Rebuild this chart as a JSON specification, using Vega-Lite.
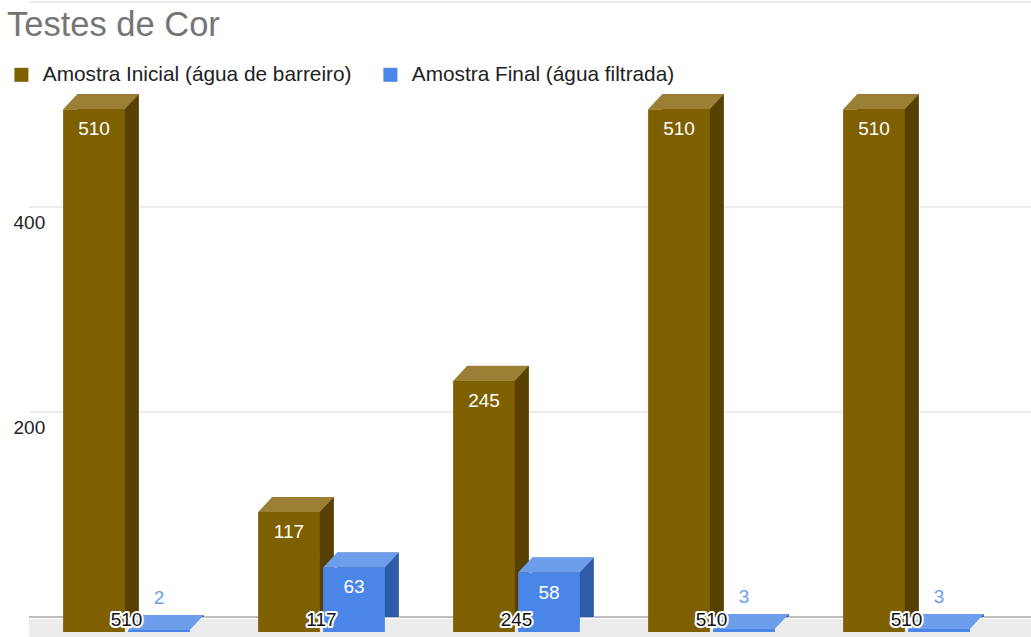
{
  "$schema": "https://vega.github.io/schema/vega-lite/v6.json",
  "autosize": "none",
  "width": 1002,
  "height": 615,
  "padding": {"left": 29, "top": 17, "right": 0, "bottom": 5},
  "background": "white",
  "config": {"view": {"stroke": null}, "font": "Liberation Sans"},
  "title": {
    "text": "Testes de Cor",
    "anchor": "start",
    "frame": "group",
    "fontSize": 34.5,
    "fontWeight": "normal",
    "font": "Liberation Sans",
    "color": "#757575",
    "baseline": "alphabetic",
    "dx": -22,
    "dy": 73
  },
  "datasets": {
    "barras": [
      {"chave": "1i", "rotulo": "510", "tipo": "i", "serie": "Amostra Inicial (água de barreiro)", "valor": 510},
      {"chave": "1f", "rotulo": "510", "tipo": "f", "serie": "Amostra Final (água filtrada)", "valor": 2},
      {"chave": "2i", "rotulo": "117", "tipo": "i", "serie": "Amostra Inicial (água de barreiro)", "valor": 117},
      {"chave": "2f", "rotulo": "117", "tipo": "f", "serie": "Amostra Final (água filtrada)", "valor": 63},
      {"chave": "3i", "rotulo": "245", "tipo": "i", "serie": "Amostra Inicial (água de barreiro)", "valor": 245},
      {"chave": "3f", "rotulo": "245", "tipo": "f", "serie": "Amostra Final (água filtrada)", "valor": 58},
      {"chave": "4i", "rotulo": "510", "tipo": "i", "serie": "Amostra Inicial (água de barreiro)", "valor": 510},
      {"chave": "4f", "rotulo": "510", "tipo": "f", "serie": "Amostra Final (água filtrada)", "valor": 3},
      {"chave": "5i", "rotulo": "510", "tipo": "i", "serie": "Amostra Inicial (água de barreiro)", "valor": 510},
      {"chave": "5f", "rotulo": "510", "tipo": "f", "serie": "Amostra Final (água filtrada)", "valor": 3}
    ],
    "grade": [{"v": 0}, {"v": 200}, {"v": 400}, {"v": 600}],
    "chao": [{"v": 0}]
  },
  "data": {"name": "barras"},
  "layer": [
    {
      "data": {"name": "chao"},
      "mark": {"type": "rect", "color": "#ececec", "yOffset": -13, "y2Offset": 5},
      "encoding": {
        "y": {
          "field": "v", "type": "quantitative",
          "scale": {"domain": [0, 600], "nice": false, "zero": true},
          "axis": {"values": [200, 400], "grid": false, "domain": false, "ticks": false, "tickSize": 0, "labelAlign": "left", "labelPadding": 16, "labelFontSize": 19, "labelColor": "#222222", "labelFont": "Liberation Sans", "labelBaseline": "middle", "title": null}
        },
        "y2": {"field": "v"}
      }
    },
    {
      "data": {"name": "grade"},
      "mark": {"type": "rule", "yOffset": -15, "strokeWidth": 1},
      "encoding": {
        "y": {"field": "v", "type": "quantitative"},
        "stroke": {"condition": {"test": "datum.v === 0", "value": "#7a7a7a"}, "value": "#d9d9d9"}
      }
    },
    {
      "mark": {"type": "bar", "xOffset": 14, "x2Offset": 14, "yOffset": -15},
      "encoding": {
        "x": {
          "field": "chave", "type": "nominal", "axis": null,
          "scale": {
            "domain": ["1i", "1f", "g1", "2i", "2f", "g2", "3i", "3f", "g3", "4i", "4f", "g4", "5i", "5f", "g5"],
            "range": [32.5, 1007.5], "paddingInner": 0.05, "paddingOuter": 0.025
          }
        },
        "y": {"field": "valor", "type": "quantitative"},
        "fill": {"condition": {"test": "datum.tipo === 'i'", "value": "#574000"}, "value": "#2f5ca8"}
      }
    },
    {
      "mark": {"type": "point", "shape": "M0.812,0L1.19,0L1.19,-0.41Z", "size": 5776, "filled": true, "opacity": 1, "strokeWidth": 0},
      "encoding": {
        "x": {"field": "chave", "type": "nominal"},
        "y": {"datum": 0},
        "fill": {"value": "#ececec"}
      }
    },
    {
      "mark": {"type": "bar"},
      "encoding": {
        "x": {"field": "chave", "type": "nominal"},
        "y": {"field": "valor", "type": "quantitative"},
        "color": {
          "field": "serie",
          "type": "nominal",
          "scale": {"domain": ["Amostra Inicial (água de barreiro)", "Amostra Final (água filtrada)"], "range": ["#7f6000", "#4a86e8"]},
          "legend": {
            "orient": "none",
            "legendX": -18,
            "legendY": 47,
            "direction": "horizontal",
            "title": null,
            "padding": 0,
            "symbolType": "square",
            "symbolSize": 196,
            "symbolStrokeWidth": 0,
            "symbolOpacity": 1,
            "labelFontSize": 20.8,
            "labelFont": "Liberation Sans",
            "labelColor": "#222222",
            "labelLimit": 500,
            "labelOffset": 11,
            "columnPadding": 28
          }
        }
      }
    },
    {
      "mark": {"type": "point", "shape": "M-0.812,0L0.812,0L1.181,-0.395L-0.444,-0.395Z", "size": 5776, "filled": true, "opacity": 1, "strokeWidth": 0},
      "encoding": {
        "x": {"field": "chave", "type": "nominal"},
        "y": {"field": "valor", "type": "quantitative"},
        "fill": {"condition": {"test": "datum.tipo === 'i'", "value": "#9a7f35"}, "value": "#6d9eeb"}
      }
    },
    {
      "transform": [{"filter": "datum.valor >= 20"}],
      "mark": {"type": "text", "dy": 20, "fontSize": 19, "font": "Liberation Sans", "color": "white", "baseline": "middle"},
      "encoding": {
        "x": {"field": "chave", "type": "nominal"},
        "y": {"field": "valor", "type": "quantitative"},
        "text": {"field": "valor", "type": "quantitative"}
      }
    },
    {
      "transform": [{"filter": "datum.valor < 20"}],
      "mark": {"type": "text", "dy": -32, "fontSize": 19, "font": "Liberation Sans", "color": "#6d9eeb", "baseline": "middle"},
      "encoding": {
        "x": {"field": "chave", "type": "nominal"},
        "y": {"field": "valor", "type": "quantitative"},
        "text": {"field": "valor", "type": "quantitative"}
      }
    },
    {
      "transform": [{"filter": "datum.tipo === 'i'"}],
      "mark": {"type": "text", "dy": -12, "fontSize": 19, "font": "Liberation Sans", "color": "white", "stroke": "white", "strokeWidth": 4, "strokeJoin": "round", "baseline": "middle"},
      "encoding": {
        "x": {"field": "chave", "type": "nominal", "bandPosition": 1.026},
        "y": {"datum": 0},
        "text": {"field": "rotulo", "type": "nominal"}
      }
    },
    {
      "transform": [{"filter": "datum.tipo === 'i'"}],
      "mark": {"type": "text", "dy": -12, "fontSize": 19, "font": "Liberation Sans", "color": "#111111", "baseline": "middle"},
      "encoding": {
        "x": {"field": "chave", "type": "nominal", "bandPosition": 1.026},
        "y": {"datum": 0},
        "text": {"field": "rotulo", "type": "nominal"}
      }
    }
  ]
}
